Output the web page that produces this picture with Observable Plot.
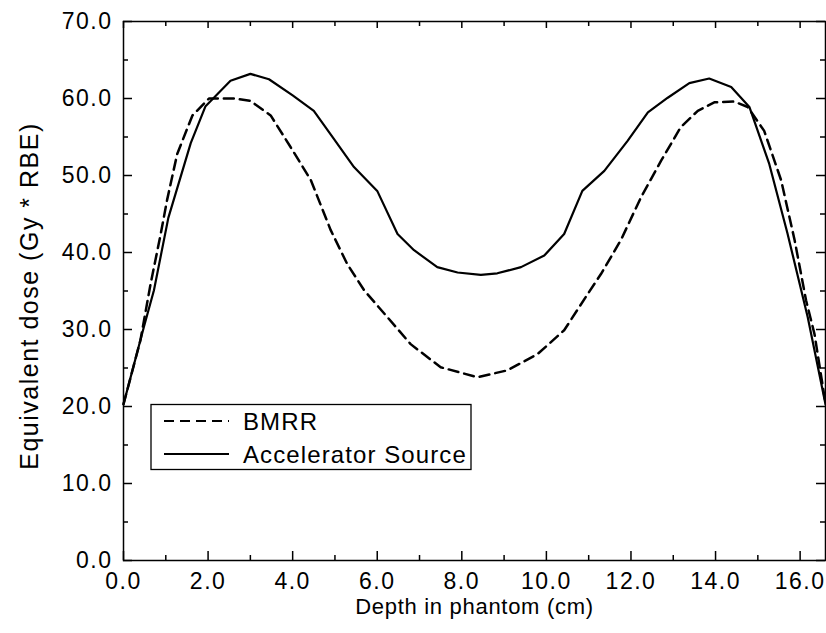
<!DOCTYPE html>
<html><head><meta charset="utf-8">
<script src="https://cdn.jsdelivr.net/npm/d3@7"></script>
<script src="https://cdn.jsdelivr.net/npm/@observablehq/plot@0.6"></script>
<style>
body{margin:0;background:#fff}
#chart{position:relative;width:826px;height:633px}
#chart svg text{letter-spacing:1.5px}
</style>
</head><body><div id="chart"></div>
<script>
// ---- data ----
const depthBMRR = [0, 0.4, 0.64, 0.88, 1.03, 1.27, 1.63, 2.02, 2.61, 3.0, 3.48, 3.95, 4.43, 4.9, 5.29, 5.69, 6.24, 6.79, 7.5, 8.37, 9.08, 9.79, 10.42, 11.0, 11.29, 11.76, 12.24, 12.71, 13.18, 13.58, 13.97, 14.44, 14.76, 15.15, 15.55, 15.87, 16.14, 16.34, 16.6];
const doseBMRR  = [20.3, 28.6, 35.9, 42.4, 46.8, 52.8, 57.8, 60.0, 60.0, 59.7, 57.8, 53.7, 49.4, 42.9, 38.5, 35.1, 31.6, 28.1, 25.1, 23.8, 24.7, 26.8, 29.9, 34.8, 37.2, 41.6, 47.2, 51.9, 56.3, 58.4, 59.5, 59.6, 58.9, 55.8, 49.4, 41.6, 33.8, 29.4, 20.4];
const depthAccel = [0, 0.48, 0.72, 1.06, 1.59, 1.94, 2.53, 3.0, 3.44, 4.0, 4.5, 4.97, 5.45, 6.0, 6.48, 6.87, 7.42, 7.9, 8.45, 8.84, 9.4, 9.95, 10.42, 10.85, 11.37, 11.92, 12.4, 12.87, 13.38, 13.85, 14.37, 14.8, 15.27, 15.7, 16.18, 16.6];
const doseAccel  = [20.3, 30.3, 35.1, 44.5, 54.2, 59.0, 62.3, 63.2, 62.5, 60.4, 58.4, 54.8, 51.1, 48.0, 42.4, 40.3, 38.1, 37.4, 37.1, 37.3, 38.1, 39.6, 42.4, 48.0, 50.6, 54.5, 58.2, 60.1, 62.0, 62.6, 61.5, 58.9, 51.5, 42.5, 31.6, 20.3];
const seriesNames = ["BMRR", "Accelerator Source"];
const xMajorTicks = [0, 2, 4, 6, 8, 10, 12, 14, 16];
const xMinorTicks = [1, 3, 5, 7, 9, 11, 13, 15];
const yMajorTicks = [0, 10, 20, 30, 40, 50, 60, 70];
const yMinorTicks = [5, 15, 25, 35, 45, 55, 65];
const xTitle = "Depth in phantom (cm)";
const yTitle = "Equivalent dose (Gy * RBE)";

const bmrr = depthBMRR.map((d, i) => ({depth: d, dose: doseBMRR[i]}));
const accel = depthAccel.map((d, i) => ({depth: d, dose: doseAccel[i]}));
const fmt = d => d.toFixed(1);

// frame size in pixels (for inward tick insets)
const W = 826, H = 633, mL = 123, mR = 1, mT = 21, mB = 73;
const fw = W - mL - mR, fh = H - mT - mB;
const tickStyle = {stroke: "#000", strokeWidth: 1.5};

const plot = Plot.plot({
  width: W, height: H,
  marginLeft: mL, marginRight: mR, marginTop: mT, marginBottom: mB,
  x: {domain: [0, 16.6], label: null, axis: null},
  y: {domain: [0, 70], label: null, axis: null},
  style: {fontFamily: "'Liberation Sans', Arial, sans-serif", fontSize: "23px", color: "#000", background: "#fff"},
  marks: [
    // tick labels
    Plot.axisX({ticks: xMajorTicks, anchor: "bottom", tickSize: 0, tickPadding: 12, tickFormat: fmt, label: null, fontSize: 23}),
    Plot.axisY({ticks: yMajorTicks, anchor: "left", tickSize: 0, tickPadding: 11, tickFormat: fmt, label: null, fontSize: 23}),
    // inward ticks (bottom, top, left, right)
    Plot.ruleX(xMajorTicks, {x: d => d, insetTop: fh - 9, ...tickStyle}),
    Plot.ruleX(xMinorTicks, {x: d => d, insetTop: fh - 5, ...tickStyle}),
    Plot.ruleX(xMajorTicks, {x: d => d, insetBottom: fh - 7, ...tickStyle}),
    Plot.ruleX(xMinorTicks, {x: d => d, insetBottom: fh - 5, ...tickStyle}),
    Plot.ruleY(yMajorTicks, {y: d => d, insetRight: fw - 9, ...tickStyle}),
    Plot.ruleY(yMinorTicks, {y: d => d, insetRight: fw - 5, ...tickStyle}),
    Plot.ruleY(yMajorTicks, {y: d => d, insetLeft: fw - 9, ...tickStyle}),
    Plot.ruleY(yMinorTicks, {y: d => d, insetLeft: fw - 5, ...tickStyle}),
    Plot.frame({stroke: "#000", strokeWidth: 1.5}),
    // titles
    Plot.text([xTitle], {text: d => d, frameAnchor: "bottom", dy: 53, fontSize: 22, fill: "#000"}),
    Plot.text([yTitle], {text: d => d, frameAnchor: "left", textAnchor: "middle", rotate: -90, dx: -94, dy: 5, fontSize: 25, fill: "#000"}),
    // curves
    Plot.line(bmrr, {x: "depth", y: "dose", stroke: "#000", strokeWidth: 2.5, strokeDasharray: "10,6"}),
    Plot.line(accel, {x: "depth", y: "dose", stroke: "#000", strokeWidth: 2.2})
  ]
});
document.getElementById("chart").appendChild(plot);
d3.select(plot).selectAll("text").filter(function() { return this.textContent === xTitle; })
  .style("letter-spacing", "0.7px");

// legend (pixel layout)
const svg = d3.select(plot);
const lg = svg.append("g").attr("class", "legend");
lg.append("rect").attr("x", 151).attr("y", 404.5).attr("width", 320).attr("height", 65)
  .attr("fill", "#fff").attr("stroke", "#000").attr("stroke-width", 1.3);
const rows = [{y: 421, dash: "10,6"}, {y: 454, dash: null}];
seriesNames.forEach((name, i) => {
  const r = rows[i];
  lg.append("line").attr("x1", 164).attr("x2", 229).attr("y1", r.y).attr("y2", r.y)
    .attr("stroke", "#000").attr("stroke-width", 2.2).attr("stroke-dasharray", r.dash);
  lg.append("text").attr("x", 243).attr("y", r.y).attr("dy", "0.36em").attr("text-anchor", "start")
    .style("font-size", "24px").style("letter-spacing", "1.1px").attr("fill", "#000").text(name);
});
</script>
</body></html>
